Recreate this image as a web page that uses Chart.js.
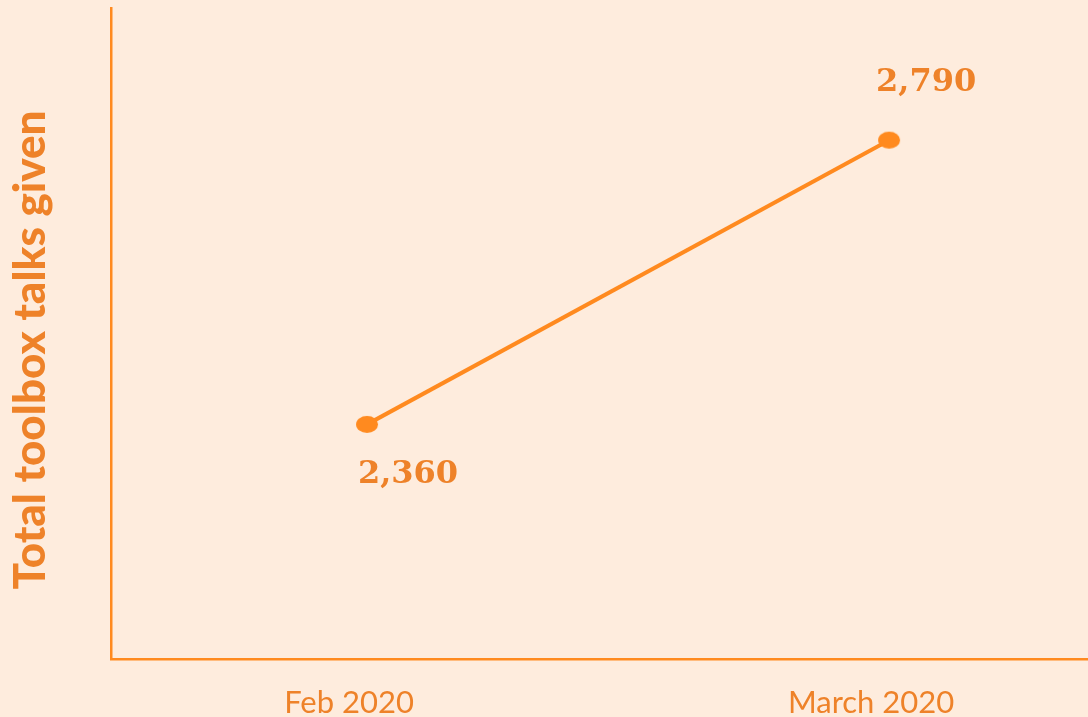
<!DOCTYPE html>
<html>
<head>
<meta charset="utf-8">
<script src="https://cdn.jsdelivr.net/npm/chart.js@4.4.1/dist/chart.umd.min.js"></script>
<style>
  html, body { margin: 0; padding: 0; background: #FEECDD; }
  #wrap { width: 1088px; height: 717px; position: relative; }
</style>
</head>
<body>
<div id="wrap"><canvas id="c" width="1088" height="717"></canvas></div>
<script>
// ---- data ----
const categories = ['Feb 2020', 'March 2020'];
const talksGiven = [2360, 2790];
const yAxisTitle = 'Total toolbox talks given';

// ---- styles ----
const LINE_COLOR = '#FF8A1F';
const TEXT_COLOR = '#EE8229';
const BG = '#FEECDD';

function ellipseMarker(rx, ry, color) {
  const cv = document.createElement('canvas');
  cv.width = rx * 2 + 2; cv.height = ry * 2 + 2;
  const g = cv.getContext('2d');
  g.fillStyle = color;
  g.beginPath();
  g.ellipse(rx + 1, ry + 1, rx, ry, 0, 0, Math.PI * 2);
  g.fill();
  return cv;
}
const marker = ellipseMarker(11, 8.5, LINE_COLOR);

const bgPlugin = {
  id: 'bg',
  beforeDraw(chart) {
    const ctx = chart.ctx;
    ctx.save();
    ctx.fillStyle = BG;
    ctx.fillRect(0, 0, chart.width, chart.height);
    ctx.restore();
  }
};

// value labels next to points
const valueLabels = {
  id: 'valueLabels',
  afterDatasetsDraw(chart, args, opts) {
    const ctx = chart.ctx;
    const meta = chart.getDatasetMeta(0);
    ctx.save();
    ctx.font = opts.font;
    ctx.fillStyle = opts.color;
    ctx.textAlign = 'center';
    ctx.textBaseline = 'middle';
    meta.data.forEach((pt, i) => {
      const off = opts.offsets[i];
      ctx.fillText(talksGiven[i].toLocaleString('en-US'), pt.x + off[0], pt.y + off[1]);
    });
    ctx.restore();
  }
};

// rotated y-axis title
const yTitle = {
  id: 'yTitle',
  afterDraw(chart, args, opts) {
    const ctx = chart.ctx;
    ctx.save();
    ctx.translate(opts.x, opts.y);
    ctx.rotate(-Math.PI / 2);
    ctx.font = opts.font;
    ctx.fillStyle = opts.color;
    ctx.textAlign = 'center';
    ctx.textBaseline = 'middle';
    ctx.fillText(opts.text, 0, 0);
    ctx.restore();
  }
};

new Chart(document.getElementById('c'), {
  type: 'line',
  data: {
    datasets: [{
      data: talksGiven.map((v, i) => ({ x: i, y: v })),
      borderColor: LINE_COLOR,
      backgroundColor: LINE_COLOR,
      borderWidth: 4,
      pointStyle: marker,
      pointRadius: 10,
      tension: 0,
      fill: false
    }]
  },
  options: {
    responsive: false,
    animation: false,
    layout: { autoPadding: false, padding: { top: 8, right: 0, bottom: 0, left: 0 } },
    plugins: {
      legend: { display: false },
      tooltip: { enabled: false },
      valueLabels: {
        font: 'bold 32px "DejaVu Serif"',
        color: TEXT_COLOR,
        offsets: [[41, 50], [37, -57]]
      },
      yTitle: {
        text: yAxisTitle,
        font: '900 44px Lato',
        color: TEXT_COLOR,
        x: 31,
        y: 350
      }
    },
    scales: {
      x: {
        type: 'linear',
        min: -0.4904,
        max: 1.381,
        afterBuildTicks(scale) {
          scale.ticks = categories.map((c, i) => ({ value: i }));
        },
        afterFit(scale) { scale.height = 58; },
        grid: { display: false, drawTicks: false },
        border: { display: true, color: LINE_COLOR, width: 2.5 },
        ticks: {
          callback: (v) => categories[v] ?? '',
          color: TEXT_COLOR,
          font: { family: 'Lato', size: 31, weight: 'normal' },
          padding: 25,
          labelOffset: -18,
          maxRotation: 0,
          autoSkip: false
        }
      },
      y: {
        type: 'linear',
        min: 2005,
        max: 2990,
        afterFit(scale) { scale.width = 111; },
        grid: { display: false, drawTicks: false },
        border: { display: true, color: LINE_COLOR, width: 2.5 },
        ticks: { display: false },
        title: { display: false }
      }
    }
  },
  plugins: [bgPlugin, valueLabels, yTitle]
});
</script>
</body>
</html>
